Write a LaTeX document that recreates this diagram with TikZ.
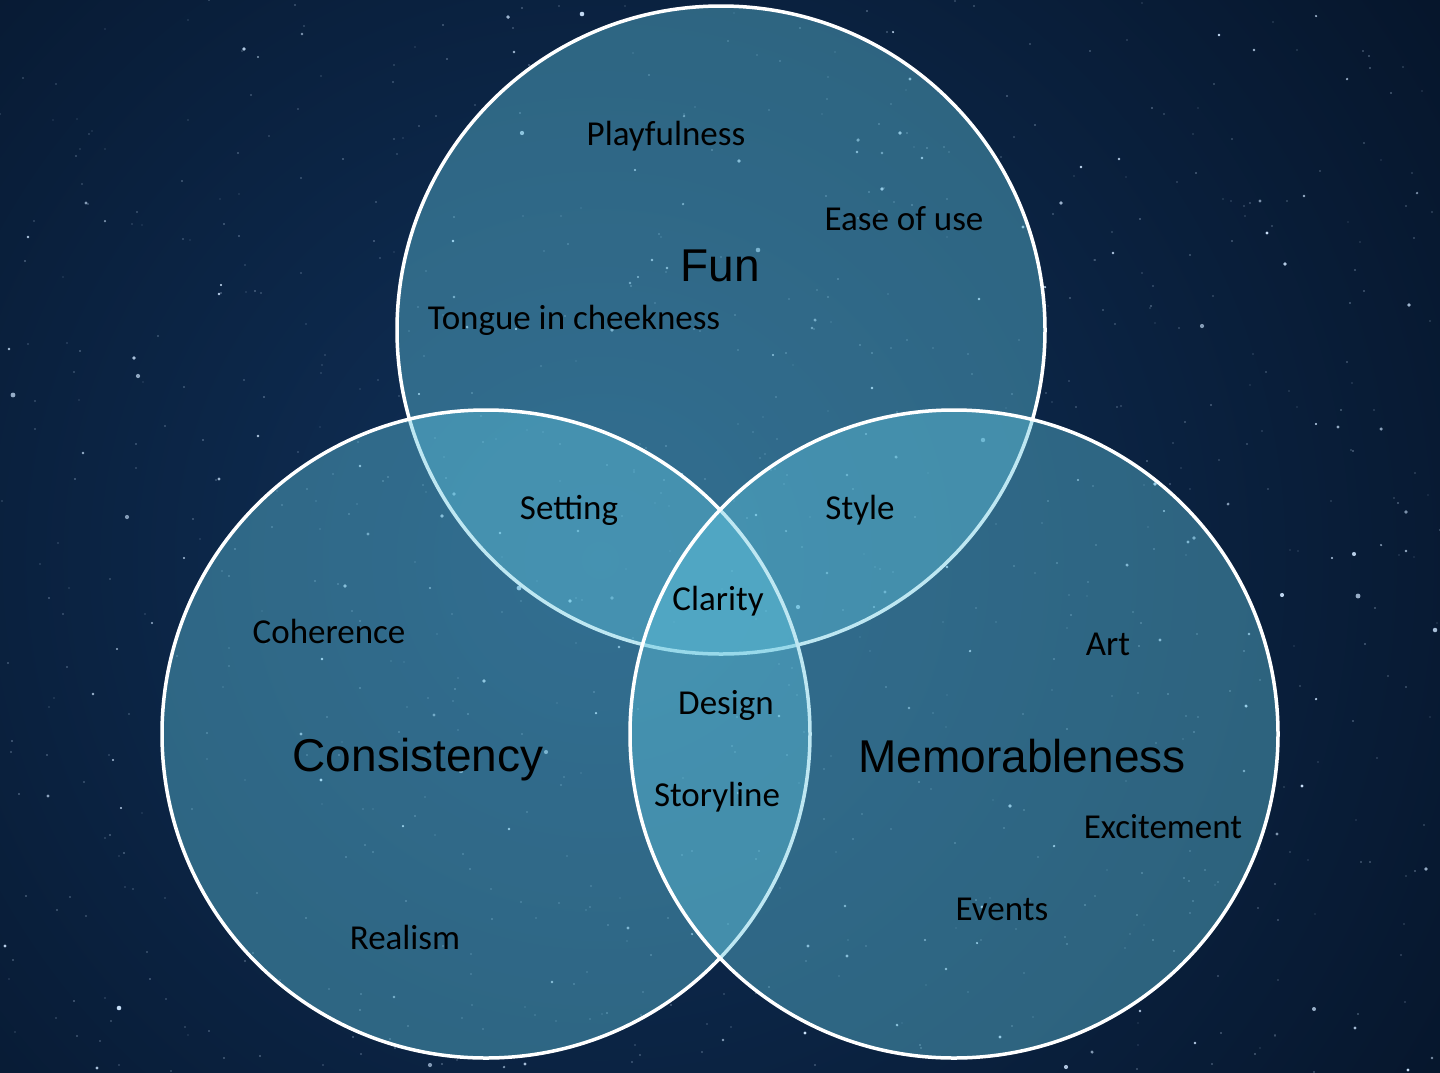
\documentclass[tikz,border=0pt]{standalone}
\usepackage{fontspec}
\setmainfont{Carlito}
\newfontfamily\headfont{Liberation Sans}
\definecolor{skydark}{HTML}{06162C}
\definecolor{skyglow}{HTML}{10315A}
\definecolor{starcol}{HTML}{CFE6FF}
\definecolor{vennfill}{HTML}{62C6E0}
\begin{document}
\begin{tikzpicture}[x=1pt,y=-1pt,
  venn/.style={fill=vennfill, fill opacity=0.41, draw=white, line width=3.5pt},
  item/.style={anchor=base, inner sep=0pt, font=\fontsize{35}{40}\selectfont, text=black},
  head/.style={anchor=base, inner sep=0pt, font=\headfont\fontsize{46}{52}\selectfont, text=black}]
  % night sky
  \fill[skydark] (0,0) rectangle (1440,1072);
  \begin{scope}
    \clip (0,0) rectangle (1440,1072);
    \shade[inner color=skyglow, outer color=skydark] (600,560) circle (1000);
  \end{scope}
  \useasboundingbox (0,0) rectangle (1440,1072);
  % faint star dust
  \pgfmathsetseed{4217}
  \foreach \i in {1,...,700}{
    \pgfmathsetmacro\sx{random(0,1440)}
    \pgfmathsetmacro\sy{random(0,1072)}
    \pgfmathsetmacro\so{0.15+0.35*rnd}
    \fill[starcol, opacity=\so] (\sx,\sy) circle (0.9);
  }
  % brighter stars
  \foreach \i in {1,...,170}{
    \pgfmathsetmacro\sx{random(0,1440)}
    \pgfmathsetmacro\sy{random(0,1072)}
    \pgfmathsetmacro\so{0.55+0.45*rnd}
    \pgfmathsetmacro\sr{1.2+1.4*rnd*rnd}
    \fill[starcol, opacity=\so] (\sx,\sy) circle (\sr);
  }
  % circle centres
  \coordinate (cfun) at (721,330);
  \coordinate (ccon) at (486,734);
  \coordinate (cmem) at (954,734);
  % the three sets
  \draw[venn] (cfun) circle (324);
  \draw[venn] (ccon) circle (324);
  \draw[venn] (cmem) circle (324);
  % set names
  \node[head] (fun) at (720,281) {Fun};
  \node[head] (consistency) at (418,771) {Consistency};
  \node[head] (memorable) at (1022,772) {Memorableness};
  % qualities
  \node[item] (playful) at (666,145) {Playfulness};
  \node[item] (ease) at (904,230) {Ease of use};
  \node[item] (tongue) at (574,329) {Tongue in cheekness};
  \node[item] (setting) at (569,519) {Setting};
  \node[item] (style) at (860,519) {Style};
  \node[item] (clarity) at (718,610) {Clarity};
  \node[item] (coherence) at (329,643) {Coherence};
  \node[item] (art) at (1108,655) {Art};
  \node[item] (design) at (726,714) {Design};
  \node[item] (storyline) at (717,806) {Storyline};
  \node[item] (excitement) at (1163,838) {Excitement};
  \node[item] (events) at (1002,920) {Events};
  \node[item] (realism) at (405,949) {Realism};
\end{tikzpicture}
\end{document}
